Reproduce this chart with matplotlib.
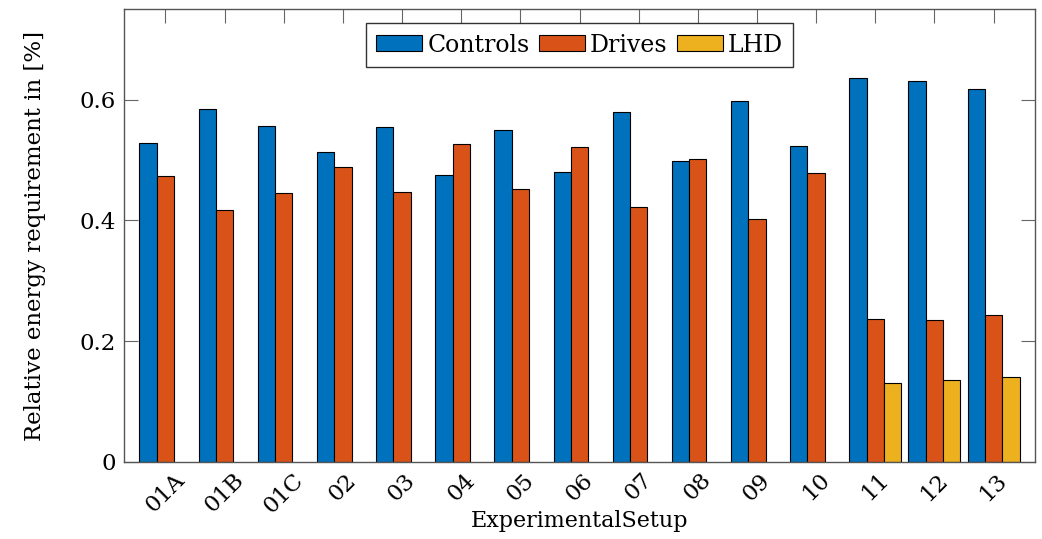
import numpy as np
import matplotlib.pyplot as plt

plt.rcParams['font.family'] = ['DejaVu Serif']
plt.rcParams['mathtext.fontset'] = 'dejavuserif'

# data
setups = ["01A", "01B", "01C", "02", "03", "04", "05", "06",
          "07", "08", "09", "10", "11", "12", "13"]
controls = [0.528, 0.584, 0.556, 0.513, 0.554, 0.475, 0.549, 0.480,
            0.579, 0.498, 0.598, 0.523, 0.635, 0.630, 0.617]
drives = [0.473, 0.417, 0.445, 0.488, 0.447, 0.526, 0.452, 0.521,
          0.422, 0.502, 0.403, 0.478, 0.236, 0.235, 0.244]
lhd = [0, 0, 0, 0, 0, 0, 0, 0, 0, 0, 0, 0, 0.130, 0.135, 0.141]

x = np.arange(len(setups))
w = 0.293

fig = plt.figure(figsize=(10.42, 5.39), dpi=100)
ax = fig.add_axes([124/1042, 1 - 462/539, (1035 - 124)/1042, (462 - 9)/539])

ax.bar(x - w, controls, w, color="#0072BD", edgecolor="black", linewidth=0.8, label="Controls")
ax.bar(x, drives, w, color="#D95319", edgecolor="black", linewidth=0.8, label="Drives")
lhd_plot = [v if v > 0 else np.nan for v in lhd]
ax.bar(x + w, lhd_plot, w, color="#EDB120", edgecolor="black", linewidth=0.8, label="LHD")

ax.set_xlim(-0.7, len(setups) - 1 + 0.7)
ax.set_ylim(0, 0.75)
ax.set_yticks([0, 0.2, 0.4, 0.6])
ax.set_yticklabels(["0", "0.2", "0.4", "0.6"])
ax.set_xticks(x)
ax.set_xticklabels(setups, rotation=45, ha="center", va="top")

ax.tick_params(direction="in", top=True, right=True, length=10, width=0.8,
               color="#666666", labelsize=16.5)
ax.tick_params(axis="x", bottom=False, pad=5)
ax.tick_params(axis="y", pad=6)
for s in ax.spines.values():
    s.set_color("#555555")
    s.set_linewidth(1.0)

ax.set_xlabel("ExperimentalSetup", fontsize=16, labelpad=-5)
ax.set_ylabel("Relative energy requirement in [%]", fontsize=16.5, labelpad=24)

leg = ax.legend(loc="upper center", bbox_to_anchor=(0.5, 1 - 14/453),
                ncol=3, fontsize=17, frameon=True, fancybox=False,
                handlelength=1.95, handleheight=0.65, handletextpad=0.2,
                columnspacing=0.4, borderpad=0.45, borderaxespad=0)
leg.get_frame().set_edgecolor("black")
leg.get_frame().set_linewidth(1.0)

fig.savefig("out.png", dpi=100)
